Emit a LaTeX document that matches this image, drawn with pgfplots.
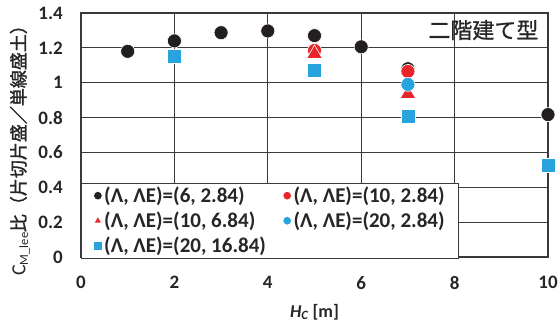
\documentclass[border=0pt]{standalone}
\usepackage{fontspec}
\setmainfont{Carlito}
\newfontfamily\jp{Noto Sans CJK JP}[FakeBold=0.8]
\newfontfamily\jpb{Noto Sans CJK JP}[FakeBold=1.5]
\usepackage{pgfplots}
\pgfplotsset{compat=1.18}
\definecolor{cblack}{HTML}{231F20}
\definecolor{cred}{HTML}{E8262A}
\definecolor{cblue}{HTML}{27A4DD}
\definecolor{cgrid}{HTML}{3A3A3A}
\definecolor{ctext}{HTML}{262626}
\begin{document}
\begin{tikzpicture}
\path[use as bounding box] (-81pt,-74pt) rectangle (479pt,257pt);
\begin{axis}[
  scale only axis,
  width=467pt, height=244pt,
  xmin=0, xmax=10, ymin=0, ymax=1.4,
  xtick={0,2,...,10}, ytick={0,0.2,...,1.4},
  grid=major,
  major grid style={cgrid, line width=1.2pt},
  axis line style={cgrid, line width=1.2pt},
  major tick length=0pt,
  /pgf/number format/assume math mode=true,
  tick label style={font=\bfseries\fontsize{19}{19}\selectfont, text=ctext},
  yticklabel style={inner sep=0pt, xshift=-18pt},
  xticklabel style={inner sep=0pt, yshift=-19pt},
  xlabel={\bfseries\itshape H\textsubscript{C}\upshape\ [m]},
  xlabel style={font=\fontsize{18}{18}\selectfont, text=ctext, at={(axis description cs:0.5,0)}, anchor=center, yshift=-55pt},
  ylabel={{\fontsize{20}{20}\selectfont C}\textsubscript{M\_lee}{\jpb 比（片切片盛／単線盛土）}},
  ylabel style={font=\fontsize{18}{18}\selectfont, text=ctext, at={(axis description cs:-0.131,0.455)}, anchor=center},
  legend columns=2,
  legend cell align=left,
  legend style={at={(axis description cs:0,0)}, anchor=south west, yshift=-2pt,
    draw=cgrid, line width=1.2pt, fill=white,
    font=\bfseries\fontsize{21}{25}\selectfont, text=ctext,
    inner xsep=12pt, inner ysep=0pt,
    row sep=0pt,
    nodes={inner ysep=4pt},
    /tikz/every even column/.append style={column sep=15pt}},
  legend image code/.code={\draw[#1, mark size=4.3pt, draw=none] plot coordinates {(0.15cm,0cm)};},
]
\addplot[only marks, mark=*, mark size=7pt, color=cblack, mark options={fill=cblack, draw=white, line width=0.6pt}]
  coordinates {(1,1.18) (2,1.24) (3,1.287) (4,1.297) (5,1.27) (6,1.206) (7,1.08) (10,0.817)};
\addlegendentry{(Λ, ΛE)=(6, 2.84)}
\addplot[only marks, mark=*, mark size=7pt, color=cred, mark options={fill=cred, draw=white, line width=0.6pt}]
  coordinates {(5,1.185) (7,1.065)};
\addlegendentry{(Λ, ΛE)=(10, 2.84)}
\addplot[only marks, mark=triangle*, mark size=9pt, color=cred, mark options={fill=cred, draw=white, line width=0.6pt}]
  coordinates {(5,1.165) (7,0.935)};
\addlegendentry{(Λ, ΛE)=(10, 6.84)}
\addplot[only marks, mark=*, mark size=7pt, color=cblue, mark options={fill=cblue, draw=white, line width=0.6pt}]
  coordinates {(5,1.075) (7,0.99)};
\addlegendentry{(Λ, ΛE)=(20, 2.84)}
\addplot[only marks, mark=square*, mark size=7pt, color=cblue, mark options={fill=cblue, draw=white, line width=0.6pt}]
  coordinates {(2,1.149) (5,1.07) (7,0.81) (10,0.526)};
\addlegendentry{(Λ, ΛE)=(20, 16.84)}
\node[anchor=east, font=\jp\fontsize{22}{22}\selectfont, text=ctext] at (axis description cs:0.987,0.93) {二階建て型};
\end{axis}
\end{tikzpicture}
\end{document}
